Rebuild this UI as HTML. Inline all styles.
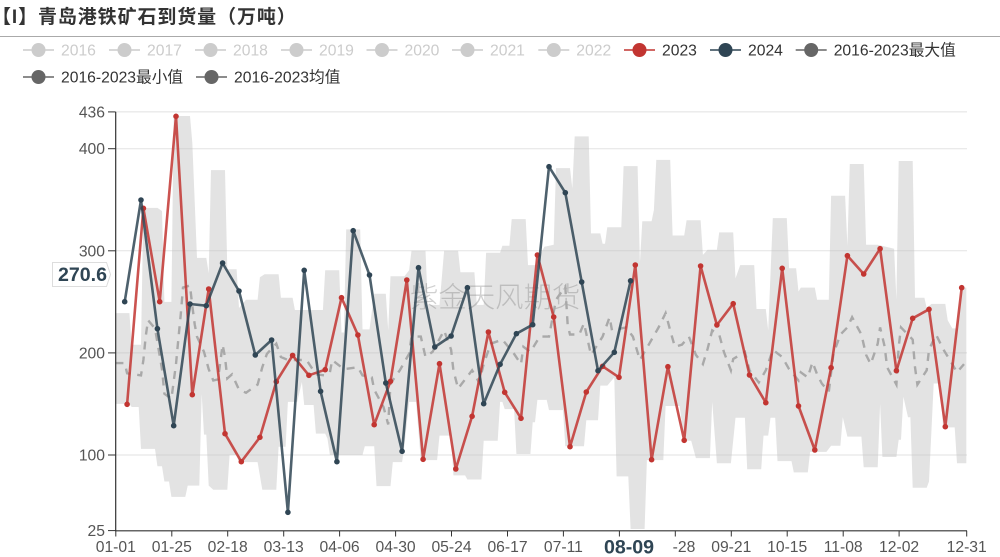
<!DOCTYPE html>
<html lang="zh">
<head>
<meta charset="utf-8">
<title>青岛港铁矿石到货量</title>
<style>
html,body{margin:0;padding:0;background:#fff;}
body{width:1000px;height:557px;overflow:hidden;position:relative;font-family:"Liberation Sans","Noto Sans CJK SC",sans-serif;}
#title{position:absolute;left:-8px;top:5px;font-size:19px;font-weight:bold;color:#333;line-height:26px;letter-spacing:.9px;white-space:nowrap;}
#rule{position:absolute;left:0;top:36px;width:1000px;height:1px;background:#aaa;}
svg{position:absolute;left:0;top:0;}
text{font-family:"Liberation Sans","Noto Sans CJK SC",sans-serif;}
</style>
</head>
<body>
<div id="title">【I】青岛港铁矿石到货量（万吨）</div>
<div id="rule"></div>
<svg id="chart" width="1000" height="557" viewBox="0 0 1000 557"></svg>
<script>
const legendNames = ['2016','2017','2018','2019','2020','2021','2022','2023','2024','2016-2023最大值','2016-2023最小值','2016-2023均值'];
const legendColors = ['#ccc','#ccc','#ccc','#ccc','#ccc','#ccc','#ccc','#c23531','#2f4554','#666','#666','#666'];
const legendActive = [false,false,false,false,false,false,false,true,true,true,true,true];

const yTicks = [25,100,200,300,400,436];
const xTickLabels = ['01-01','01-25','02-18','03-13','04-06','04-30','05-24','06-17','07-11','08-04','08-28','09-21','10-15','11-08','12-02','12-31'];

const dates2023 = ['01-06','01-13','01-20','01-27','02-03','02-10','02-17','02-24','03-03','03-10','03-17','03-24','03-31','04-07','04-14','04-21','04-28','05-05','05-12','05-19','05-26','06-02','06-09','06-16','06-23','06-30','07-07','07-14','07-21','07-28','08-04','08-11','08-18','08-25','09-01','09-08','09-15','09-22','09-29','10-06','10-13','10-20','10-27','11-03','11-10','11-17','11-24','12-01','12-08','12-15','12-22','12-29'];
const values2023 = [149.7,341.6,250.1,431.7,159.1,262.6,120.9,93.4,117.3,171.8,197.6,178.1,183.5,254.1,217.5,129.7,172.2,271.4,95.8,189.4,86.3,137.9,220.5,161.4,135.9,295.9,235.2,108.1,161.7,186.9,176.1,286.1,95.4,186.5,114.4,285.1,227.3,248.2,178.4,151.2,282.9,148,104.9,185.5,295.2,277.3,302.1,182.6,233.9,242.7,127.7,263.9];

const dates2024 = ['01-05','01-12','01-19','01-26','02-02','02-09','02-16','02-23','03-01','03-08','03-15','03-22','03-29','04-05','04-12','04-19','04-26','05-03','05-10','05-17','05-24','05-31','06-07','06-14','06-21','06-28','07-05','07-12','07-19','07-26','08-02','08-09'];
const values2024 = [250.1,349.8,223.7,128.7,247.9,246.2,288,260.6,197.9,212.6,43.9,280.9,162.4,93.4,319.7,276.3,170.5,103.6,283.4,205.8,216.6,263.9,150.2,188.8,218.8,227.6,382.4,356.9,269.4,182.6,200.6,270.6];

const maxDays = [0,6,7,11,12,18,20,21,24,25,32,33,35,39,40,41,47,48,52,53,56,61,62,64,70,71,76,77,89,90,96,97,98,99,105,106,109,111,116,117,118,124,126,127,133,134,139,141,147,148,154,155,158,159,165,166,169,170,176,177,180,184,188,189,195,196,197,203,204,208,209,210,211,217,218,224,225,226,230,231,232,238,239,244,245,251,252,254,258,259,265,266,268,274,275,279,280,282,288,289,292,293,294,300,301,306,307,313,314,315,321,322,327,334,335,336,342,343,347,348,350,356,357,359,361,363,365];
const maxValues = [239,239,208,208,342,342,339,250,250,432,432,406,293,293,278,379,379,282,282,244,252,252,274,277,277,254,254,242,242,281,281,220,220,321,321,223,223,258,258,222,275,275,281,300,300,247,247,300,300,279,279,247,247,298,298,305,305,331,331,286,286,304,306,381,381,361,412,412,317,317,307,307,323,323,383,383,288,329,329,340,389,389,315,315,330,330,296,301,301,318,318,273,286,286,243,243,222,332,332,283,283,260,264,264,252,252,354,354,305,385,385,306,306,302,252,388,388,254,254,244,248,248,232,224,224,264,264];

const minDays = [0,6,7,10,11,17,18,20,21,23,24,30,31,36,37,38,39,40,42,48,49,52,53,61,63,69,70,73,74,78,80,81,85,86,90,91,92,106,107,111,112,118,119,123,124,126,129,131,138,139,144,145,150,151,157,158,164,165,166,167,171,172,178,179,180,181,185,186,192,193,201,202,207,208,211,214,215,220,221,227,228,235,236,242,244,247,249,255,256,258,264,266,270,271,277,278,280,281,283,284,290,291,297,298,305,307,311,312,314,320,321,327,328,329,335,336,337,338,340,341,342,348,349,351,354,355,360,361,365];
const minValues = [150,150,147,147,106,106,89,89,74,74,59,59,70,70,160,120,120,70,66,66,100,100,93,93,66,66,108,108,152,152,171.5,149,149,121,121,116,100,100,108.5,108.5,69.5,69.5,93,93,110,152,152,95,95,119,119,80,80,76,76,114,114,152,152,145,145,101,101,132,132,154,154,144,144,108.5,108.5,134,134,168,168,176,79,79,27.5,27.5,95,95,148,148,114,114,97,97,152,92,92,136.5,136.5,86,86,119,119,136.5,136.5,94,94,83,83,103,103,109,109,137,118,118,88,88,150,98,98,115,115,157,137,137,68,68,74,170,170,127,127,92,92];

const meanDays = [0,4,5,11,12,13,14,17,20,21,24,26,27,28,29,32,33,34,35,38,40,42,44,46,47,48,50,53,56,61,63,65,69,71,74,76,82,86,90,92,93,98,104,106,110,111,115,117,118,122,126,127,131,133,136,141,144,145,147,150,153,156,158,161,166,171,174,175,178,182,186,189,193,194,195,199,201,204,209,212,213,219,222,225,229,233,236,238,240,243,246,249,252,254,256,259,261,264,265,270,272,276,279,282,286,289,293,294,297,299,301,303,306,308,311,314,316,320,322,324,327,328,330,331,335,336,337,342,343,344,348,349,352,355,359,361,364];
const meanValues = [190,190,180,178,193,216,232,224,184,160,155,189,213,237,264,266,246,228,216,201,184,173,174,208,196,175,179,164,161,169,186,199,209,196,193,193,193,179,178,181,193,184,186,178,176,164,147,130,170,183,199,216,216,196,201,222,203,183,165,174,183,171,189,209,213,199,189,206,201,216,216,252,265,227,218,218,229,198,216,235,222,225,216,193,209,225,239,222,206,208,216,198,189,204,222,218,201,183,194,201,183,171,183,203,196,184,173,181,176,191,179,170,162,199,218,225,235,218,198,189,209,225,206,186,169,206,225,213,186,169,183,203,218,204,189,181,189];

const pointerValue = '270.6';
const pointerDate = '08-09';

const cumDays = [0,31,60,91,121,152,182,213,244,274,305,335];
function dayIndex(s){
  const p = s.split('-');
  return cumDays[+p[0]-1] + (+p[1]) - 1;
}
function xDay(d){ return 115.4 + d*2.3313; }
function yVal(v){ return 455 - (v-100)*1.021; }

const svg = document.getElementById('chart');
const NS = 'http://www.w3.org/2000/svg';
function mk(tag, attrs, txt){
  const n = document.createElementNS(NS, tag);
  for (const k in attrs) n.setAttribute(k, attrs[k]);
  if (txt !== undefined) n.textContent = txt;
  svg.appendChild(n);
  return n;
}
let el;

// min/max band
let bandPts = [];
maxDays.forEach((d,i)=>bandPts.push(xDay(d).toFixed(1)+','+yVal(maxValues[i]).toFixed(1)));
for (let i=minDays.length-1;i>=0;i--) bandPts.push(xDay(minDays[i]).toFixed(1)+','+yVal(minValues[i]).toFixed(1));
el = mk('polygon',{points:bandPts.join(' '),fill:'#e3e3e3',stroke:'none'});



// gridlines
yTicks.forEach(v=>{
  if (v===25) return;
  el = mk('line',{x1:116,x2:967,y1:yVal(v).toFixed(1),y2:yVal(v).toFixed(1),stroke:'rgba(190,190,190,0.45)','stroke-width':1});
  
  
});

// watermark
el = mk('text',{x:410,y:307,'font-size':'28.4px',fill:'rgba(110,110,110,0.32)','font-weight':'300'},'紫金天风期货');



// mean line
el = mk('polyline',{points:meanDays.map((d,i)=>xDay(d).toFixed(1)+','+yVal(meanValues[i]).toFixed(1)).join(' '),fill:'none',stroke:'#a9a9a9','stroke-width':2.4,'stroke-dasharray':'8 7'});



// weekly series
function drawSeries(dates, values, color, name){
  const pts = dates.map((s,i)=>xDay(dayIndex(s)).toFixed(1)+','+yVal(values[i]).toFixed(1)).join(' ');
  const line = mk('polyline',{points:pts,fill:'none',stroke:color,'stroke-width':2.6,'stroke-opacity':0.85,'stroke-linejoin':'round'});
  
  
  dates.forEach((s,i)=>{
    const c = mk('circle',{cx:xDay(dayIndex(s)).toFixed(1),cy:yVal(values[i]).toFixed(1),r:2.8,fill:color});
    
    
  });
}
drawSeries(dates2023, values2023, '#c23531', 'series-2023');
drawSeries(dates2024, values2024, '#2f4554', 'series-2024');

// y axis
el = mk('line',{x1:115.7,x2:115.7,y1:yVal(436).toFixed(1),y2:531.2,stroke:'#333','stroke-width':1.2});


yTicks.forEach(v=>{
  const t = mk('line',{x1:108,x2:115.7,y1:yVal(v===25?26:v).toFixed(1),y2:yVal(v===25?26:v).toFixed(1),stroke:'#333','stroke-width':1});
  
  
  const l = mk('text',{x:105,y:(yVal(v===25?26:v)+5.5).toFixed(1),'text-anchor':'end','font-size':'15.7px',fill:'#555'},String(v));
  
  
});

// x axis
el = mk('line',{x1:115.7,x2:967,y1:530.8,y2:530.8,stroke:'#333','stroke-width':1.2});


xTickLabels.forEach(s=>{
  const px = xDay(dayIndex(s))+0.4;
  const t = mk('line',{x1:px.toFixed(1),x2:px.toFixed(1),y1:530.8,y2:536.5,stroke:'#333','stroke-width':1});
  
  
  const l = mk('text',{x:px.toFixed(1),y:552,'text-anchor':'middle','font-size':'15.7px',fill:'#555'},s);
  
  
});

// axis pointer labels
el = mk('rect',{x:598,y:538,width:74,height:19,fill:'#fff'});


el = mk('text',{x:629,y:553.5,'text-anchor':'middle','font-size':'19.6px','font-weight':'bold',fill:'#2f4554'},pointerDate);



el = mk('polygon',{points:'52.5,262.5 106.5,262.5 110.5,274.5 106.5,286.5 52.5,286.5',fill:'#fff',stroke:'#ddd','stroke-width':1});


el = mk('text',{x:82.5,y:281,'text-anchor':'middle','font-size':'19.6px','font-weight':'bold',fill:'#2f4554'},pointerValue);



// legend
const legendX = [23,109,195,281,366.5,452,538.3,624,710,795.7,23,196];
const legendRowY = [50,50,50,50,50,50,50,50,50,50,77,77];
legendNames.forEach((name,i)=>{
  const lx = legendX[i], ly = legendRowY[i], c = legendColors[i];
  const a = mk('line',{x1:lx,x2:lx+31,y1:ly,y2:ly,stroke:c,'stroke-width':1.5});
  
  
  const b = mk('circle',{cx:lx+15.5,cy:ly,r:7,fill:c});
  
  
  const t = mk('text',{x:lx+38,y:ly+5.5,'font-size':'15.7px',fill:legendActive[i]?'#333':'#ccc'},name);
  
  
});
</script>
</body>
</html>
